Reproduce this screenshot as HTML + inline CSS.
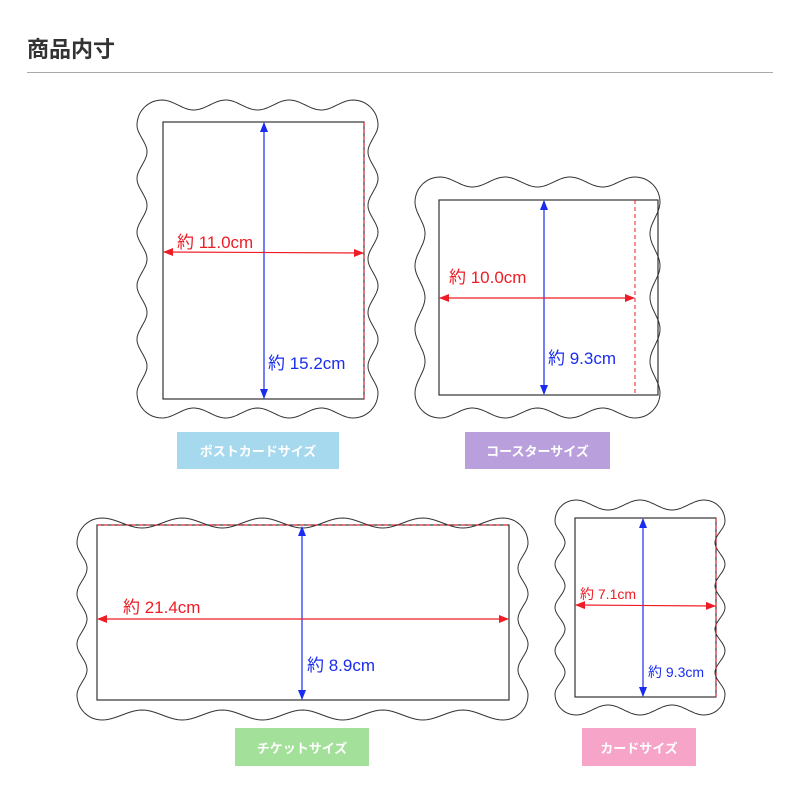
<!DOCTYPE html>
<html><head><meta charset="utf-8"><style>
body{margin:0;background:#fff;width:800px;height:800px;overflow:hidden;font-family:"Liberation Sans","Noto Sans CJK JP",sans-serif}
.lab{position:absolute;color:#fff;font-weight:bold;font-size:13px;display:flex;align-items:center;justify-content:center}
</style></head><body>
<div style="position:absolute;left:27px;top:32px;font-size:22px;font-weight:bold;color:#333">商品内寸</div>
<div style="position:absolute;left:27px;top:72px;width:746px;height:1px;background:#aaa"></div>
<svg id="s" width="800" height="800" style="position:absolute;left:0;top:0" font-family="Liberation Sans, Noto Sans CJK JP, sans-serif">
<defs>
<marker id="ab" markerWidth="10" markerHeight="10" refX="9" refY="5" orient="auto-start-reverse" markerUnits="userSpaceOnUse"><path d="M0,1 L10,5 L0,9 Z" fill="#1a2cf0"/></marker>
<marker id="ar" markerWidth="10" markerHeight="10" refX="9" refY="5" orient="auto-start-reverse" markerUnits="userSpaceOnUse"><path d="M0,1 L10,5 L0,9 Z" fill="#ee1c25"/></marker>
</defs>
<g id="w" fill="none" stroke="#333" stroke-width="1"></g>
<g stroke="#333" fill="none" stroke-width="1.2">
<rect x="163" y="122" width="201" height="277"/>
<rect x="439" y="200" width="219" height="195"/>
<rect x="97" y="525" width="412" height="175"/>
<rect x="575" y="518" width="141" height="179"/>
</g>
<g stroke="#ee1c25" stroke-dasharray="4,3" stroke-width="1">
<line x1="364" y1="122" x2="364" y2="399"/>
<line x1="635" y1="200" x2="635" y2="395"/>
<line x1="97" y1="525" x2="509" y2="525"/>
<line x1="716" y1="518" x2="716" y2="697"/>
</g>
<g stroke="#1a2cf0" stroke-width="1.2" marker-start="url(#ab)" marker-end="url(#ab)">
<line x1="264" y1="123" x2="264" y2="398"/>
<line x1="544" y1="201" x2="544" y2="394"/>
<line x1="302" y1="527" x2="302" y2="699"/>
<line x1="643" y1="519" x2="643" y2="696"/>
</g>
<g stroke="#ee1c25" stroke-width="1.2" marker-start="url(#ar)" marker-end="url(#ar)">
<line x1="164" y1="252" x2="363" y2="253"/>
<line x1="440" y1="298" x2="634" y2="298"/>
<line x1="98" y1="619" x2="508" y2="619"/>
<line x1="576" y1="605" x2="715" y2="606"/>
</g>
<g fill="#ee1c25" font-size="17">
<text x="177" y="248">約 11.0cm</text>
<text x="449" y="283">約 10.0cm</text>
<text x="123" y="613">約 21.4cm</text>
<text x="580" y="599" font-size="14">約 7.1cm</text>
</g>
<g fill="#1a2cf0" font-size="17">
<text x="268" y="369">約 15.2cm</text>
<text x="548" y="364">約 9.3cm</text>
<text x="307" y="671">約 8.9cm</text>
<text x="648" y="677" font-size="14">約 9.3cm</text>
</g>
</svg>
<div class="lab" style="left:177px;top:432px;width:162px;height:37px;background:#a6d8ee">ポストカードサイズ</div>
<div class="lab" style="left:465px;top:432px;width:145px;height:37px;background:#b9a0dc">コースターサイズ</div>
<div class="lab" style="left:235px;top:728px;width:134px;height:38px;background:#a3e09a">チケットサイズ</div>
<div class="lab" style="left:582px;top:728px;width:114px;height:38px;background:#f6a5c9">カードサイズ</div>
<script>
function wavy(x0,y0,x1,y1,r,nh,nv,a){
 var p=[];function e(ax,ay,bx,by,n,nx,ny){for(var i=0;i<=100;i++){var t=i/100;var off=a/2*Math.cos(2*Math.PI*n*t);p.push([ax+(bx-ax)*t+nx*off,ay+(by-ay)*t+ny*off]);}}
 function c(cx,cy,s){for(var i=1;i<12;i++){var ang=s+Math.PI/2*i/12;p.push([cx+(r+a/2)*Math.cos(ang),cy+(r+a/2)*Math.sin(ang)]);}}
 e(x0+r,y0,x1-r,y0,nh,0,-1);c(x1-r,y0+r,-Math.PI/2);
 e(x1,y0+r,x1,y1-r,nv,1,0);c(x1-r,y1-r,0);
 e(x1-r,y1,x0+r,y1,nh,0,1);c(x0+r,y1-r,Math.PI/2);
 e(x0,y1-r,x0,y0+r,nv,-1,0);c(x0+r,y0+r,Math.PI);
 return "M"+p.map(function(q){return q[0].toFixed(1)+","+q[1].toFixed(1)}).join("L")+"Z";}
var g=document.getElementById("w");
[[142,105,373,413,20,3,5],[420,182,655,413,20,3,3],[82,523,523,715,20,5,3],[560,505,720,710,16,2,4]].forEach(function(v){
 var pa=document.createElementNS("http://www.w3.org/2000/svg","path");pa.setAttribute("d",wavy(v[0],v[1],v[2],v[3],v[4],v[5],v[6],10));g.appendChild(pa);});
</script>
</body></html>
